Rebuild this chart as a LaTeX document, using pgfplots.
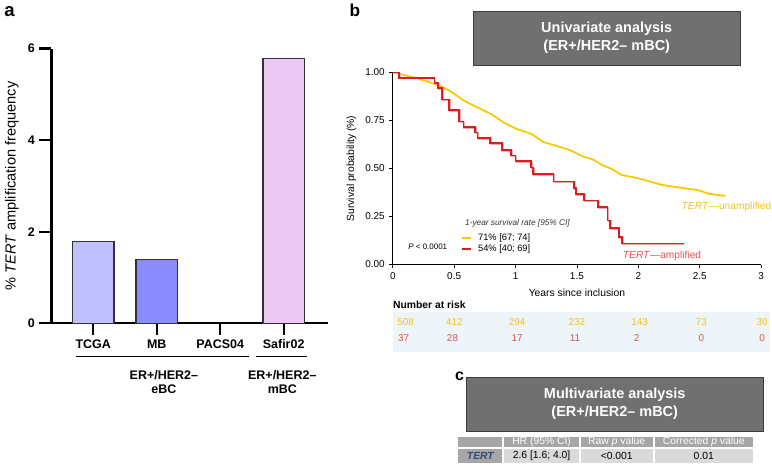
\documentclass[border=0pt]{standalone}
\usepackage{fontspec}
\setmainfont{Liberation Sans}
\usepackage{pgfplots}
\pgfplotsset{compat=1.18}

\definecolor{kmyellow}{RGB}{248,200,0}
\definecolor{kmred}{RGB}{212,32,32}
\definecolor{kmpink}{RGB}{240,170,170}
\definecolor{txtred}{RGB}{226,80,80}
\definecolor{txtyellow}{RGB}{245,195,20}
\definecolor{boxgray}{RGB}{112,112,112}
\definecolor{boxedge}{RGB}{60,60,60}
\definecolor{hdrgray}{RGB}{166,166,166}
\definecolor{rowgray}{RGB}{218,218,218}
\definecolor{riskbg}{RGB}{238,245,248}
\definecolor{tertblue}{RGB}{44,75,120}
\definecolor{barA}{RGB}{192,192,255}
\definecolor{barB}{RGB}{140,140,255}
\definecolor{barC}{RGB}{236,202,245}
\definecolor{baredge}{RGB}{50,50,50}

\newcommand\fs[1]{\fontsize{#1}{#1}\selectfont}

\pgfplotstableread{
t s
0 1.000
0.05 0.973
0.34 0.946
0.37 0.919
0.40 0.860
0.46 0.805
0.54 0.745
0.575 0.715
0.67 0.688
0.69 0.660
0.79 0.632
0.89 0.597
0.965 0.568
1.00 0.540
1.125 0.505
1.14 0.470
1.31 0.432
1.475 0.400
1.49 0.368
1.56 0.333
1.67 0.300
1.75 0.230
1.77 0.190
1.84 0.145
1.865 0.110
2.37 0.110
}\ampdata

\begin{document}
\begin{tikzpicture}
\path (0,0) rectangle (579pt,-348.75pt);
% ---------------- panel a
\begin{axis}[at={(37.5pt,-242.25pt)}, anchor=south west, scale only axis,
  width=208.5pt, height=207pt,
  xmin=-0.66, xmax=3.70, ymin=0, ymax=6,
  axis x line=bottom, axis y line=left,
  axis line style={-, line width=1.7pt},
  xtick={0,1,2,3}, xticklabels={TCGA,MB,PACS04,Safir02},
  ytick={0,2,4,6},
  tick align=outside, major tick length=9pt,
  tick style={line width=1.7pt, black},
  ticklabel style={font=\bfseries\fs{9.4}},
  /pgf/number format/assume math mode=true,
  ylabel={\% \textit{TERT} amplification frequency},
  ylabel style={font=\fs{11}},
  clip=false]
\addplot[ybar, bar width=0.65, bar shift=0pt, fill=barA, draw=baredge, line width=1pt] coordinates {(0,1.78)};
\addplot[ybar, bar width=0.65, bar shift=0pt, fill=barB, draw=baredge, line width=1pt] coordinates {(1,1.39)};
\addplot[ybar, bar width=0.65, bar shift=0pt, fill=barC, draw=baredge, line width=1pt] coordinates {(3,5.78)};
\end{axis}
% ---------------- panel b
\begin{axis}[at={(294.75pt,-198pt)}, anchor=south west, scale only axis,
  width=277.5pt, height=144.75pt,
  xmin=0, xmax=3, ymin=0, ymax=1,
  axis x line=bottom, axis y line=left,
  axis line style={-, line width=0.6pt},
  xtick={0,0.5,1,1.5,2,2.5,3}, xticklabels={0,0.5,1,1.5,2,2.5,3},
  ytick={0,0.25,0.5,0.75,1}, yticklabels={0.00,0.25,0.50,0.75,1.00},
  tick align=outside, major tick length=2.5pt,
  tick style={line width=0.6pt, black},
  ticklabel style={font=\fs{7.5}},
  /pgf/number format/assume math mode=true,
  xlabel={Years since inclusion}, ylabel={Survival probability (\%)},
  label style={font=\fs{7.8}},
  clip=false]
\addplot[kmyellow, line width=1.3pt] table {
0 1.0
0.05 0.995
0.10 0.985
0.20 0.970
0.32 0.945
0.40 0.927
0.48 0.898
0.58 0.853
0.69 0.818
0.80 0.784
0.91 0.737
1.01 0.706
1.13 0.680
1.23 0.637
1.34 0.617
1.45 0.594
1.54 0.565
1.63 0.547
1.70 0.520
1.79 0.496
1.865 0.466
1.98 0.452
2.08 0.435
2.19 0.415
2.30 0.404
2.38 0.397
2.49 0.387
2.57 0.369
2.71 0.357
};
\addplot[const plot, kmpink, line width=1.3pt, shift={(0.7pt,-0.7pt)}] table[x=t, y=s] {\ampdata};
\addplot[const plot, kmred, line width=1.3pt] table[x=t, y=s] {\ampdata};
\end{axis}
% ---------------- annotations (pixel units)
\begin{scope}[x=0.75pt, y=-0.75pt]
\node[font=\bfseries\fs{14}] at (8,10) {a};
\node[font=\bfseries\fs{13}] at (355,9) {b};
\node[font=\bfseries\fs{12}] at (460,376) {c};
% panel a groups
\draw[line width=0.8pt] (75,356) -- (249,356);
\draw[line width=0.8pt] (256,356) -- (307,356);
\node[font=\bfseries\fs{9.4}, align=center] at (163,382) {ER+/HER2\textendash\\[1.5pt]eBC};
\node[font=\bfseries\fs{9.4}, align=center] at (282,382) {ER+/HER2\textendash\\[1.5pt]mBC};
% panel b title
\draw[boxedge, fill=boxgray, line width=0.6pt] (474,10) rectangle (742,64);
\node[text=white, font=\bfseries\fs{10.9}] at (608,27) {Univariate analysis};
\node[text=white, font=\bfseries\fs{10.9}] at (608,45) {(ER+/HER2\textendash{} mBC)};
% legend
\node[anchor=west, font=\itshape\fs{6.25}, text=black!80] at (461,223) {1-year survival rate [95\% CI]};
\draw[kmyellow, line width=1.5pt] (463,237) -- (472,237);
\draw[kmred, line width=1.5pt] (463,248) -- (472,248);
\node[anchor=west, font=\fs{7}] at (474,237) {71\% [67; 74]};
\node[anchor=west, font=\fs{7}] at (474,248) {54\% [40; 69]};
\node[anchor=west, font=\fs{6}] at (404,246) {\textit{P} < 0.0001};
\node[anchor=west, font=\fs{7.7}, text=txtyellow, inner sep=0pt] at (683,206.5) {\textit{TERT}\textemdash unamplified};
\node[anchor=west, font=\fs{7.7}, text=txtred, inner sep=0pt] at (624,255) {\textit{TERT}\textemdash amplified};
% number at risk
\node[anchor=west, font=\bfseries\fs{7.8}, inner sep=0pt] at (393,304) {Number at risk};
\fill[riskbg] (393,312) rectangle (772,352);
\foreach \xx/\n in {406/508,455/412,518/294,578/232,641/143,703/73,764/30}
  \node[font=\fs{7.5}, text=txtyellow] at (\xx,322) {\n};
\foreach \xx/\n in {404/37,453/28,518/17,576/11,638/2,703/0,764/0}
  \node[font=\fs{7.5}, text=txtred] at (\xx,338) {\n};
% panel c
\draw[boxedge, fill=boxgray, line width=0.6pt] (467,377) rectangle (765,432);
\node[text=white, font=\bfseries\fs{10.9}] at (616,395) {Multivariate analysis};
\node[text=white, font=\bfseries\fs{10.9}] at (616,413) {(ER+/HER2\textendash{} mBC)};
\fill[hdrgray] (459,437) rectangle (503,447);
\fill[hdrgray] (505,437) rectangle (580,447);
\fill[hdrgray] (582,437) rectangle (654,447);
\fill[hdrgray] (656,437) rectangle (755,447);
\fill[hdrgray] (459,449) rectangle (503,463);
\fill[rowgray] (505,449) rectangle (580,463);
\fill[rowgray] (582,449) rectangle (654,463);
\fill[rowgray] (656,449) rectangle (755,463);
\node[text=white, font=\fs{7.8}] at (542.5,442) {HR (95\% CI)};
\node[text=white, font=\fs{7.8}] at (618,442) {Raw \textit{p} value};
\node[text=white, font=\fs{7.8}] at (705.5,442) {Corrected \textit{p} value};
\node[text=tertblue, font=\bfseries\itshape\fs{7.8}] at (481,456) {TERT};
\node[font=\fs{7.8}] at (542.5,456) {2.6 [1.6; 4.0]};
\node[font=\fs{7.8}] at (618,456) {<0.001};
\node[font=\fs{7.8}] at (705.5,456) {0.01};
\end{scope}
\end{tikzpicture}
\end{document}
